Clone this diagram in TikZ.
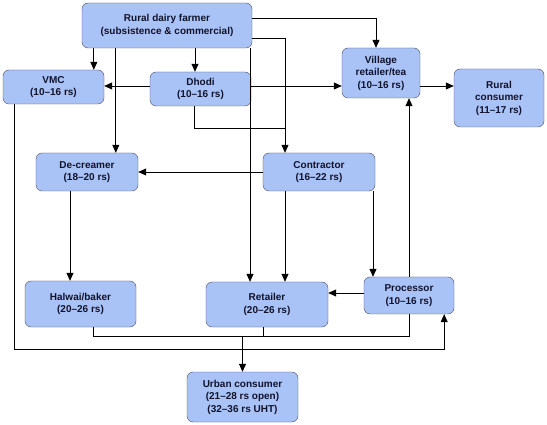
\documentclass[tikz,border=0pt]{standalone}
\usepackage{fontspec}
\setmainfont{Liberation Sans}
\usetikzlibrary{arrows.meta}
\definecolor{boxfill}{HTML}{A9C3F7}
\definecolor{boxline}{HTML}{4A4A5C}
\definecolor{boxtext}{HTML}{12122A}
\tikzset{
  chainbox/.style={draw=boxline, fill=boxfill, rounded corners=6pt, align=center,
    inner sep=1pt, font=\fontsize{10}{12.5}\selectfont\bfseries, text=boxtext},
  link/.style={line width=0.8pt, draw=black},
  arr/.style={link, -{Triangle[length=8pt, width=7pt]}}
}
\begin{document}
\begin{tikzpicture}[x=1pt, y=-1pt]
    \useasboundingbox (0,0) rectangle (547,425);
    % actors in the milk chain
    \node[chainbox, minimum width=170pt, minimum height=45pt] (farmer) at (167,25.5) {Rural dairy farmer\\(subsistence \& commercial)};
    \node[chainbox, minimum width=101pt, minimum height=34pt] (vmc) at (53.5,87) {VMC\\(10–16 rs)};
    \node[chainbox, minimum width=101pt, minimum height=34pt] (dhodi) at (200.5,89) {Dhodi\\(10–16 rs)};
    \node[chainbox, minimum width=78pt, minimum height=50pt] (village) at (381,73) {Village\\retailer/tea\\(10–16 rs)};
    \node[chainbox, minimum width=90pt, minimum height=58pt] (rural) at (499,98) {Rural\\consumer\\(11–17 rs)};
    \node[chainbox, minimum width=102pt, minimum height=38pt] (decreamer) at (87,172) {De-creamer\\(18–20 rs)};
    \node[chainbox, minimum width=112pt, minimum height=38pt] (contractor) at (319,172) {Contractor\\(16–22 rs)};
    \node[chainbox, minimum width=111pt, minimum height=46pt] (halwai) at (80.5,304) {Halwai/baker\\(20–26 rs)};
    \node[chainbox, minimum width=122pt, minimum height=45pt] (retailer) at (267,304.5) {Retailer\\(20–26 rs)};
    \node[chainbox, minimum width=90pt, minimum height=37pt] (processor) at (409,295.5) {Processor\\(10–16 rs)};
    \node[chainbox, minimum width=111pt, minimum height=50pt] (urban) at (242.5,397) {Urban consumer\\(21–28 rs open)\\(32–36 rs UHT)};
    % branch points
    \coordinate (fVmc) at ([xshift=12pt]farmer.south west);
    \coordinate (fDec) at ([xshift=34pt]farmer.south west);
    \coordinate (fDho) at ([xshift=-5.5pt]dhodi.north);
    \coordinate (fRet) at ([xshift=-17pt]retailer.north);
    \coordinate (dL) at ([yshift=3pt]dhodi.west);
    \coordinate (dR) at ([yshift=3pt]dhodi.east);
    \coordinate (dB) at ([xshift=-6pt]dhodi.south);
    \coordinate (vR) at ([yshift=-13pt]village.east);
    \coordinate (cT) at ([xshift=-34pt]contractor.north);
    \coordinate (pT) at ([xshift=-36pt]processor.north);
    \coordinate (pL) at ([yshift=2.5pt]processor.west);
    \coordinate (dcB) at ([xshift=-17pt]decreamer.south);
    \coordinate (vB) at ([xshift=12pt]vmc.south west);
    \coordinate (pB) at ([xshift=-10pt]processor.south east);
    \coordinate (hB) at ([xshift=12.5pt]halwai.south);
    \coordinate (rB) at ([xshift=-4pt]retailer.south);
    % farmer
    \draw[arr] (fVmc) -- (fVmc |- vmc.north);
    \draw[arr] (fDec) -- (fDec |- decreamer.north);
    \draw[arr] (fDho |- farmer.south) -- (fDho);
    \draw[arr] (fRet |- farmer.south) -- (fRet);
    \draw[arr] ([yshift=7.5pt]farmer.east) -| ([xshift=-5pt]village.north);
    \draw[arr] ([yshift=-12.5pt]farmer.east) -| (cT);
    % dhodi and village
    \draw[arr] (dL) -- (dL -| vmc.east);
    \draw[arr] (dR) -- (dR -| village.west);
    \draw (dB) |- ([yshift=25pt]cT);
    \draw[arr] (vR) -- (vR -| rural.west);
    % contractor, de-creamer, processor
    \draw[arr] (contractor.west) -- (contractor.west -| decreamer.east);
    \draw[arr] (cT |- contractor.south) -- (cT |- retailer.north);
    \draw[arr] (pT |- contractor.south) -- (pT);
    \draw[arr] (dcB) -- (dcB |- halwai.north);
    \draw[arr] (pL) -- (pL -| retailer.east);
    \draw[arr] (processor.north) -- (processor.north |- village.south);
    \draw[arr] (vB) |- ([yshift=-35pt]pB) -- (pB);
    % to the urban consumer
    \draw (hB) -- ++(0,9) -| (processor.south);
    \draw (rB) -- ++(0,9);
    \draw[arr] (urban.north) ++(0,-36) -- (urban.north);
\end{tikzpicture}
\end{document}
